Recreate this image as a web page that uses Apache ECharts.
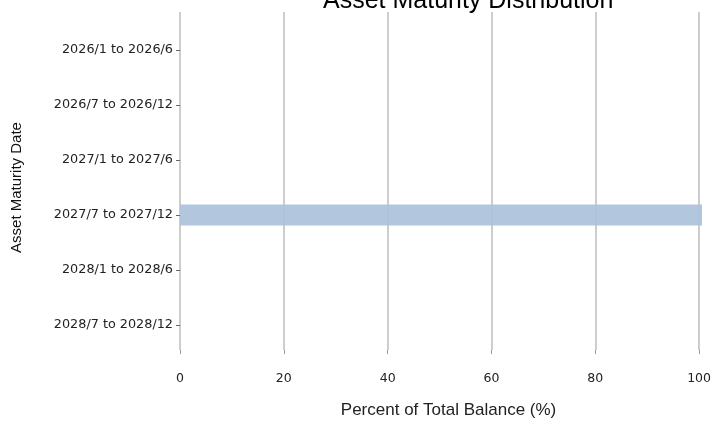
<!DOCTYPE html>
<html>
	<head>
		<meta charset="utf-8">
		<title>ECharts</title>
		<script src="https://cdn.jsdelivr.net/npm/echarts@6/dist/echarts.min.js"></script>
	</head>
	<body style="margin:0">
		<div id="main" style="width: 714px;height:424px;"></div>
		<script type="text/javascript">
			// 数据
			const categories = ['2026/1 to 2026/6', '2026/7 to 2026/12', '2027/1 to 2027/6',
				'2027/7 to 2027/12', '2028/1 to 2028/6', '2028/7 to 2028/12'];
			const percents = [0, 0, 0, 100, 0, 0];
			const xTicks = [0, 20, 40, 60, 80, 100];

			let myChart = echarts.init(document.getElementById('main'));
			const tickFont = 'DejaVu Sans';
			myChart.setOption({
				animation: false,
				title: {
					text: 'Asset Maturity Distribution',
					left: 318,
					top: -16,
					textStyle: { fontFamily: 'Liberation Sans', fontSize: 25, fontWeight: 'normal', color: '#000' }
				},
				// grid 0: 网格线, grid 1: 柱子
				grid: [
					{ left: 180, right: 12, top: 12, bottom: 72 },
					{ left: 180, right: 12, top: 22.5, bottom: 71.5 }
				],
				xAxis: [{
					gridIndex: 0,
					type: 'value',
					min: xTicks[0],
					max: xTicks[xTicks.length - 1],
					interval: 20,
					name: 'Percent of Total Balance (%)',
					nameLocation: 'middle',
					nameGap: 52,
					nameTextStyle: { fontFamily: 'Liberation Sans', fontSize: 17, color: '#222', padding: [0, 0, 0, 18] },
					axisLine: { show: false },
					axisTick: { show: true, length: 4, lineStyle: { color: '#999' } },
					axisLabel: { margin: 22, fontFamily: tickFont, fontSize: 12.5, color: '#222' },
					splitLine: { show: true, lineStyle: { color: '#bdbdbd', width: 1.5 } }
				}, {
					gridIndex: 1,
					type: 'value',
					min: 0,
					max: 100,
					show: false
				}],
				yAxis: [{
					gridIndex: 0,
					type: 'category',
					data: categories,
					show: false
				}, {
					gridIndex: 1,
					type: 'category',
					data: categories,
					inverse: true,
					name: 'Asset Maturity Date',
					nameLocation: 'middle',
					nameGap: 156,
					nameRotate: 90,
					nameTextStyle: { fontFamily: 'Liberation Sans', fontSize: 15, color: '#111' },
					axisLine: { show: false },
					axisTick: { show: true, alignWithLabel: true, length: 4, lineStyle: { color: '#666' } },
					axisLabel: { margin: 7, fontFamily: tickFont, fontSize: 12.8, color: '#222' },
					splitLine: { show: false }
				}],
				series: [{
					type: 'bar',
					xAxisIndex: 1,
					yAxisIndex: 1,
					data: percents,
					barWidth: 21,
					itemStyle: { color: '#adc2dc', opacity: 0.94 }
				}]
			});
		</script>
	</body>
</html>
